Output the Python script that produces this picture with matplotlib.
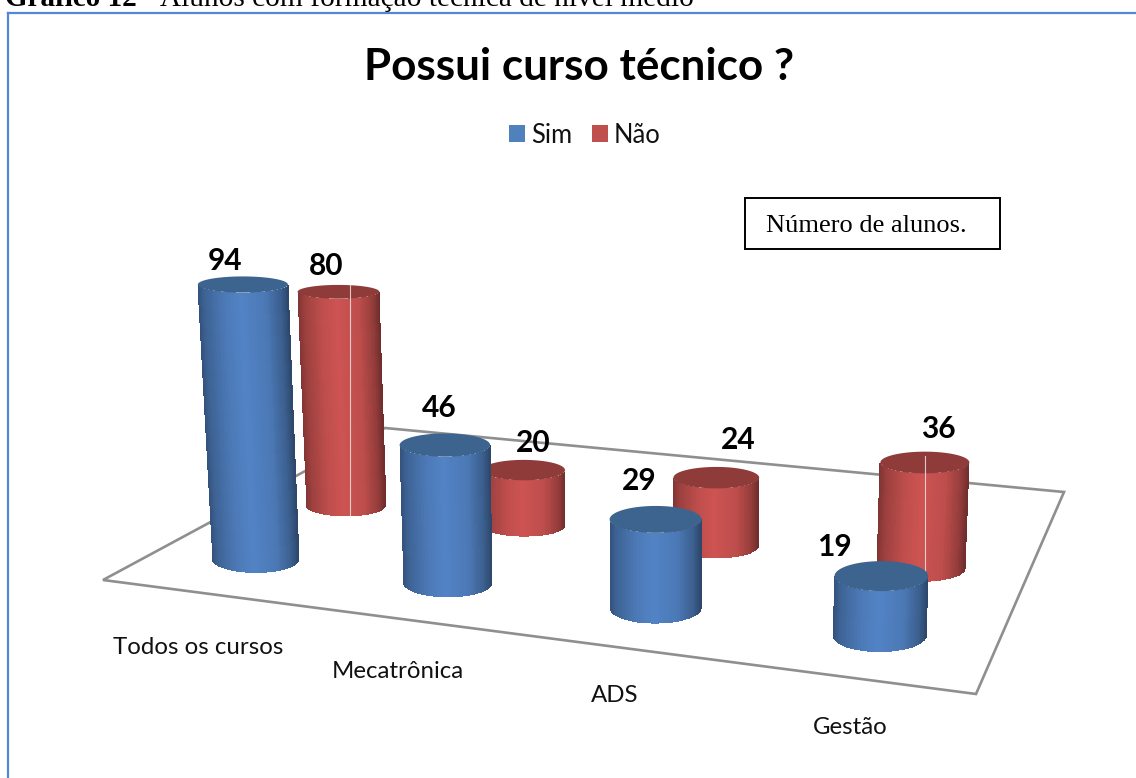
import numpy as np
import matplotlib
matplotlib.use("Agg")
import matplotlib.pyplot as plt
from matplotlib.colors import LinearSegmentedColormap
from matplotlib.patches import Patch, Polygon, Rectangle

# ---- data ----
categories = ["Todos os cursos", "Mecatrônica", "ADS", "Gestão"]
sim = [94, 46, 29, 19]
nao = [80, 20, 24, 36]
series_names = ["Sim", "Não"]
chart_title = "Possui curso técnico ?"
note = "Número de alunos."

# ---- layout (pixel canvas) ----
W, H = 1136, 778
FLOOR = [(103, 580), (976, 694), (1064, 492), (385, 428)]  # FL, FR, BR, BL
ROW_V = [0.34, 0.97]
U_OFF = [0.514, 0.517]
SCALE_REF = (0.42, 0.28)
CAT_LABEL_POS = [(198, 648), (398, 672), (615, 695), (850, 727)]
SIM_LABEL_OFF = [(-18, -24), (-6, -37), (-16, -38), (-47, -29)]
NAO_LABEL_OFF = [(-12, -26), (9, -27), (22, -38), (13, -34)]
SEAM_X = {0: 350, 3: 924.5}

plt.rcParams["font.family"] = ["Lato", "DejaVu Sans"]
fig = plt.figure(figsize=(W / 100, H / 100), dpi=100, facecolor="white")
ax = fig.add_axes([0, 0, 1, 1])
ax.set_xlim(0, W)
ax.set_ylim(H, 0)
ax.axis("off")


def homography(dst):
    src = [(0, 0), (4, 0), (4, 2), (0, 2)]
    A, b = [], []
    for (u, v), (x, y) in zip(src, dst):
        A.append([u, v, 1, 0, 0, 0, -u * x, -v * x]); b.append(x)
        A.append([0, 0, 0, u, v, 1, -u * y, -v * y]); b.append(y)
    h = np.linalg.solve(np.array(A, float), np.array(b, float))
    return np.append(h, 1).reshape(3, 3)


HM = homography(FLOOR)


def project(u, v):
    p = HM @ np.array([u, v, 1.0])
    return p[0] / p[2], p[1] / p[2], 1 / p[2]


_, _, S0 = project(*SCALE_REF)

stops = [(0, .62), (.08, .76), (.3, .93), (.48, 1), (.75, .92), (.92, .72), (1, .55)]


def ramp(rgb):
    c = np.array(rgb) / 255
    return LinearSegmentedColormap.from_list(
        "r", [(t, tuple(np.clip(c * f, 0, 1))) for t, f in stops])


CMAPS = [ramp((82, 131, 197)), ramp((205, 84, 82))]
TOPS = ["#3d648f", "#8e3b39"]
SOLID = ["#4f81bd", "#c0504d"]


def ratio(y, row):
    return (.18 + (y - 285) * .00048) * (1 if row == 0 else .92)


def cylinder(cat, row, value, z):
    cx, cy, w = project(cat + U_OFF[row], ROW_V[row])
    s = w / S0
    s = min(s, s ** .6)
    rx = 43.5 * s
    h = value * 2.94 * s
    tx = cx + (cx - 620) * h * 1.3e-4
    ty = cy - h
    trx = rx * (1 + h * 1.5e-4)
    bry, try_ = rx * ratio(cy, row), trx * ratio(ty, row)
    th = np.linspace(np.pi, 0, 90)
    X = np.vstack([tx + trx * np.cos(th), cx + rx * np.cos(th)])
    Y = np.vstack([ty + try_ * np.sin(th), cy + bry * np.sin(th)])
    t = (np.cos(th[:-1] + np.diff(th) / 2) + 1) / 2
    ax.pcolormesh(X, Y, t[None, :], cmap=CMAPS[row], vmin=0, vmax=1,
                  shading="flat", zorder=z)
    a = np.linspace(0, 2 * np.pi, 120)
    ax.add_patch(Polygon(np.c_[tx + trx * np.cos(a), ty + try_ * np.sin(a)],
                         closed=True, fc=TOPS[row], ec="none", zorder=z + .1))
    return tx, ty, cy + bry, cx


# floor
ax.add_patch(Polygon(FLOOR, closed=True, fc="white", ec="#8f8f8f", lw=1.9,
                     zorder=1, joinstyle="miter"))

# cylinders: back row first
z = 2
tops = {}
for i, val in enumerate(nao):
    tops[(1, i)] = cylinder(i, 1, val, z)
    z += 1
for i, val in enumerate(sim):
    tops[(0, i)] = cylinder(i, 0, val, z + 4)
    z += 1

for i, xs in SEAM_X.items():
    tx, ty, by, _ = tops[(1, i)]
    ax.plot([xs, xs], [ty - 7, by], color="#f0e2e2", lw=.8, zorder=5.5 if i == 3 else 3.5,
            alpha=.85)

# value labels
for row, (vals, offs) in enumerate([(sim, SIM_LABEL_OFF), (nao, NAO_LABEL_OFF)]):
    for i, (v, (dx, dy)) in enumerate(zip(vals, offs)):
        tx, ty, _, _ = tops[(row, i)]
        ax.text(tx + dx, ty + dy, str(v), ha="center", va="center",
                fontsize=21.5, fontweight="bold", color="black", zorder=30)

# category labels
for name, (x, y) in zip(categories, CAT_LABEL_POS):
    ax.text(x, y, name, ha="center", va="center", fontsize=17.3, color="#111111", zorder=30)

# title + legend
ax.text(579, 67, chart_title, ha="center", va="center", fontsize=31.7,
        fontweight="bold", color="black", zorder=30)
ax.legend(handles=[Patch(fc=SOLID[0], label=series_names[0]),
                   Patch(fc=SOLID[1], label=series_names[1])],
          loc="center", bbox_to_anchor=(585, 135), bbox_transform=ax.transData,
          ncol=2, frameon=False, fontsize=18.4, handlelength=.63, handleheight=.63,
          handletextpad=.24, columnspacing=.74, labelcolor="#111111")

# note box
ax.add_patch(Rectangle((745, 198), 255, 51, fc="white", ec="black", lw=1.4, zorder=20))
ax.text(866.5, 226, note, ha="center", va="center", fontsize=19,
        family="Liberation Serif", color="black", zorder=30)

# document frame and caption
ax.plot([8.3, 8.3], [H, 13], color="#5388d6", lw=1.6, zorder=25, solid_joinstyle="miter")
ax.plot([8.3, W], [13, 13], color="#5388d6", lw=1.6, zorder=25)
ax.text(5, 6, "Gráfico 12", ha="left", va="baseline", fontsize=21, fontweight="bold",
        family="Liberation Serif", color="black", zorder=30)
ax.text(137, 6, " - Alunos com formação técnica de nível médio", ha="left", va="baseline",
        fontsize=21.2, family="Liberation Serif", color="black", zorder=30)

fig.savefig("out.png", dpi=100, facecolor="white")
